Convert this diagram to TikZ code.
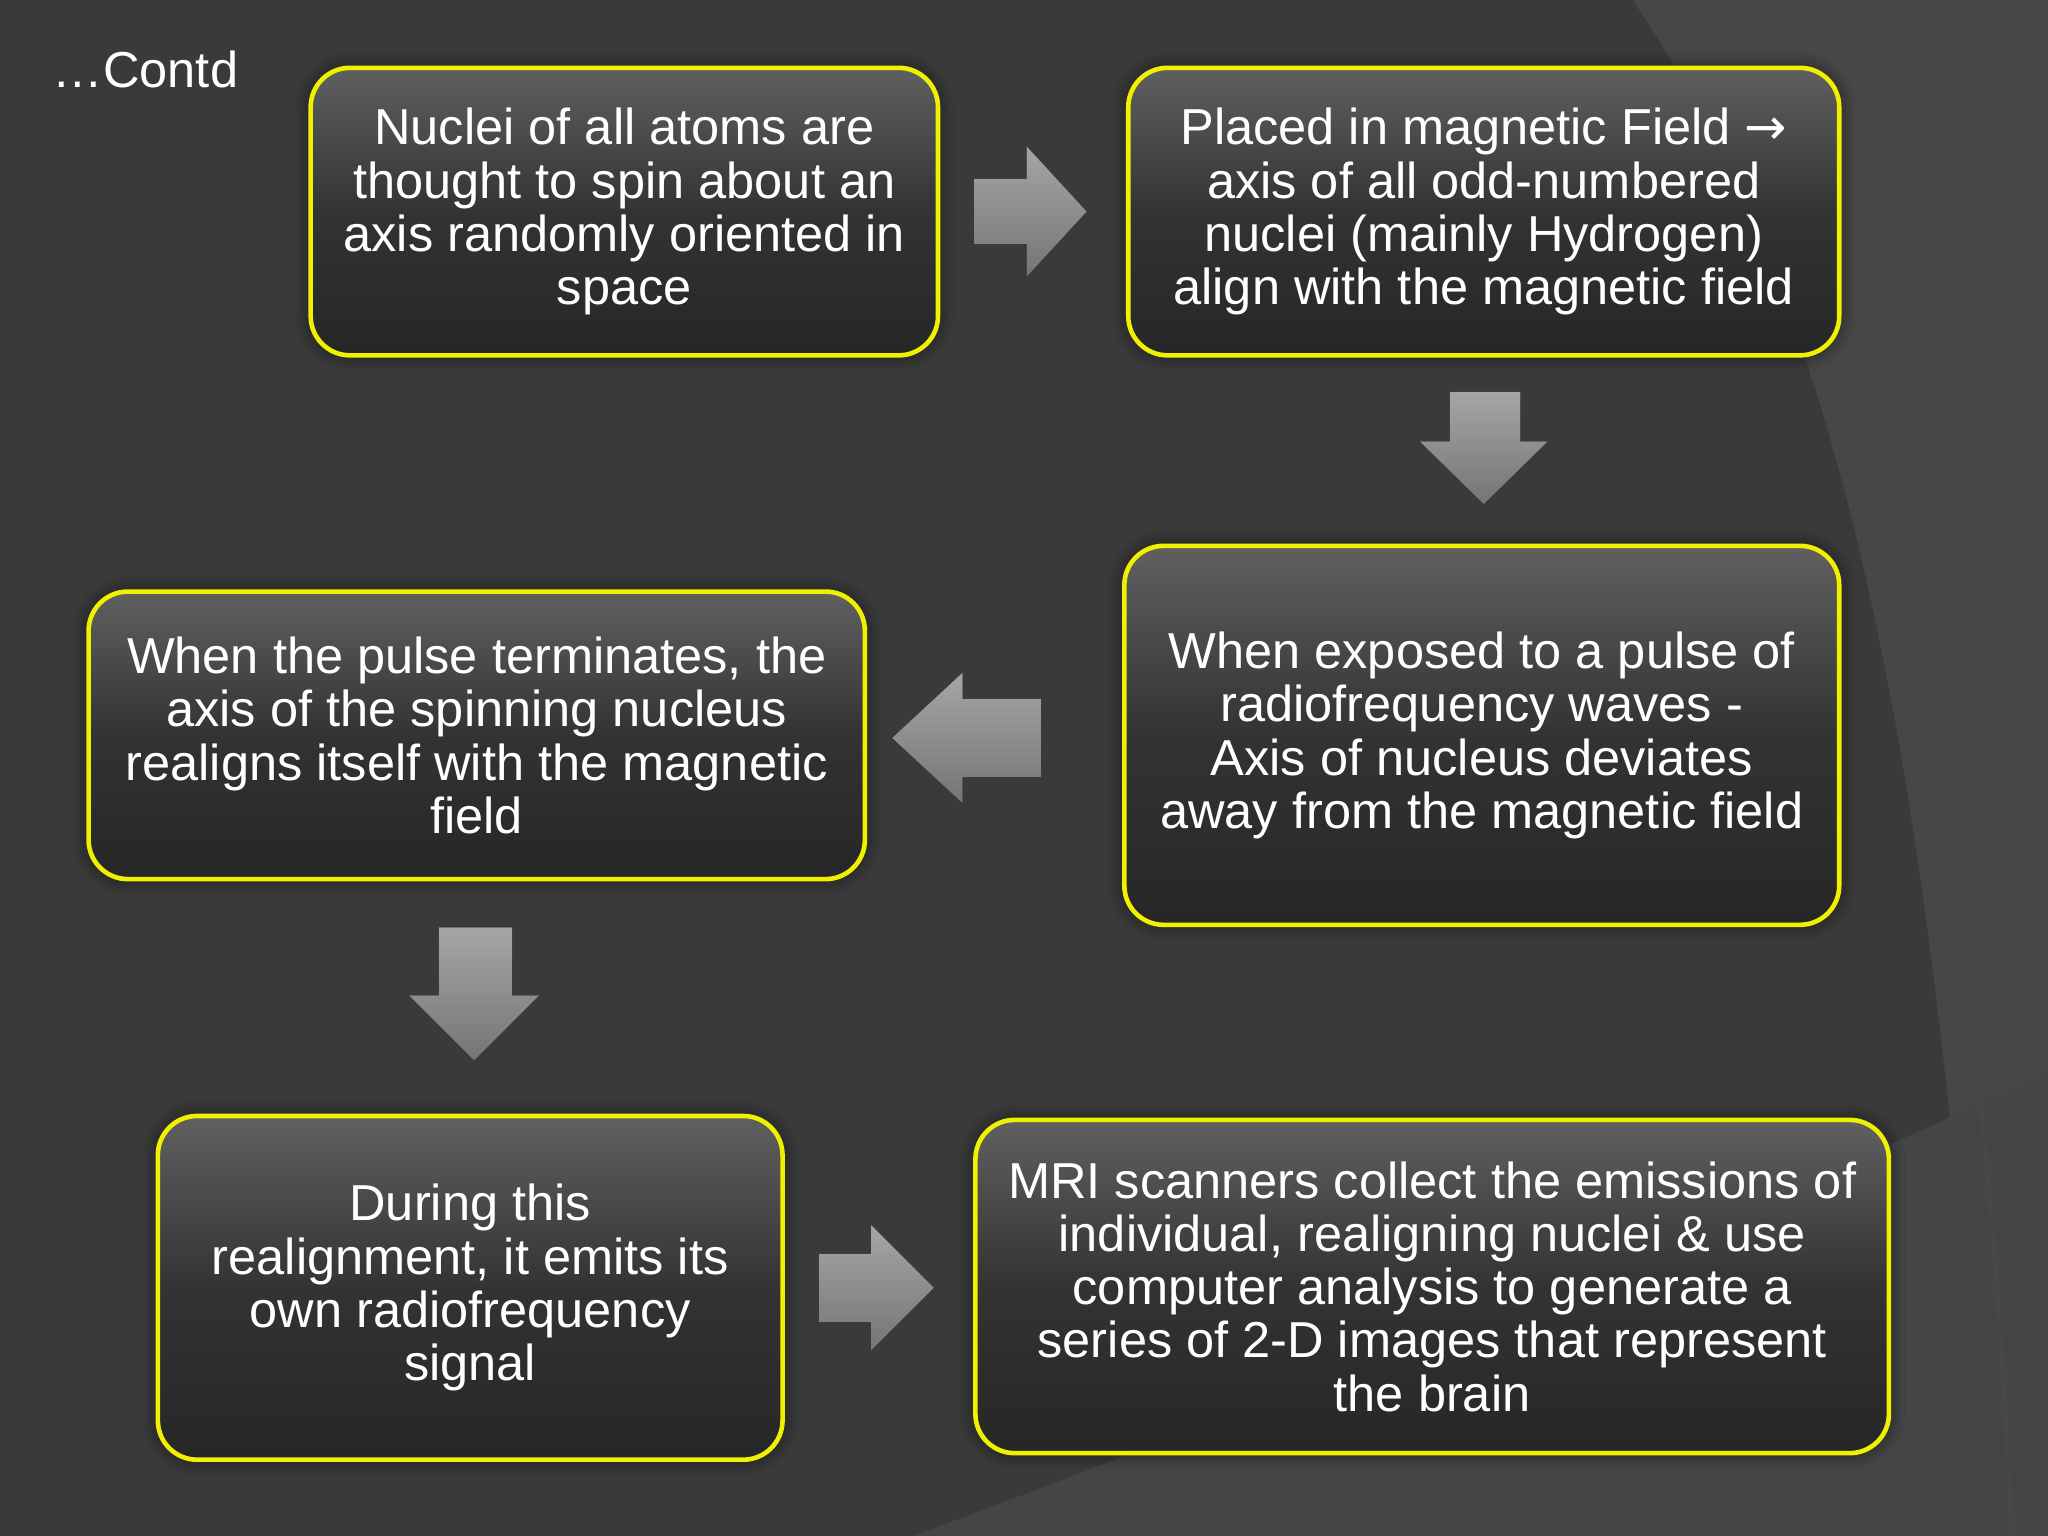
\documentclass[tikz,border=0pt]{standalone}
\usepackage{fontspec}
\setmainfont{Liberation Sans}
\newfontfamily\symf{DejaVu Sans}
\usetikzlibrary{shadows.blur}
\definecolor{bg}{HTML}{3A3A3A}
\definecolor{bgl}{HTML}{474747}
\definecolor{ylw}{HTML}{F0F000}
\tikzset{x=0.01cm,y=-0.01cm,
 box/.style={draw=ylw,line width=1pt,rounded corners=0.3cm,top color=gray!75!black,bottom color=black!85,middle color=black!80,
   text=white,align=center,font=\fontsize{11}{11.6}\selectfont,inner sep=0pt,
   blur shadow={shadow blur steps=6,shadow xshift=0pt,shadow yshift=0pt,shadow opacity=60,shadow blur radius=0.12cm}},
 barrow/.style={top color=gray!70,bottom color=gray!45!black!70,draw=none}}
\begin{document}
\begin{tikzpicture}
\fill[bg] (0,0) rectangle (1568,1176);
\useasboundingbox (0,0) rectangle (1568,1176);
\fill[bgl] (1250,0) .. controls (1420,250) and (1480,600) .. (1520,1176) -- (1568,1176) -- (1568,0) -- cycle;
\fill[bgl!85!bg] (1568,820) .. controls (1300,950) and (900,1100) .. (700,1176) -- (1568,1176) -- cycle;
\draw[bgl,line width=1pt] (1300,0) .. controls (1450,300) and (1520,700) .. (1540,1176);
\node[text=white,font=\fontsize{11}{13}\selectfont,anchor=west] (t) at (28,53) {…Contd};
\node[box,minimum width=4.8cm,minimum height=2.2cm] (b1) at (478,162) {Nuclei of all atoms are\\thought to spin about an\\axis randomly oriented in\\space};
\node[box,minimum width=5.44cm,minimum height=2.2cm] (b2) at (1136,162) {Placed in magnetic Field {\symf →}\\axis of all odd-numbered\\nuclei (mainly Hydrogen)\\align with the magnetic field};
\node[box,minimum width=5.47cm,minimum height=2.9cm] (b3) at (1134.5,563) {When exposed to a pulse of\\radiofrequency waves -\\Axis of nucleus deviates\\away from the magnetic field};
\node[box,minimum width=5.94cm,minimum height=2.2cm] (b4) at (365,563) {When the pulse terminates, the\\axis of the spinning nucleus\\realigns itself with the magnetic\\field};
\node[box,minimum width=4.78cm,minimum height=2.63cm] (b5) at (360,986) {During this\\realignment, it emits its\\own radiofrequency\\signal};
\node[box,minimum width=6.99cm,minimum height=2.55cm] (b6) at (1096.5,985) {MRI scanners collect the emissions of\\individual, realigning nuclei \& use\\computer analysis to generate a\\series of 2-D images that represent\\the brain};
\fill[barrow] (746,137) -- (786,137) -- (786,112) -- (832,162) -- (786,212) -- (786,187) -- (746,187) -- cycle;
\fill[barrow] (1110,300) -- (1164,300) -- (1164,338) -- (1185,338) -- (1136,386) -- (1087,338) -- (1110,338) -- cycle;
\fill[barrow] (797,535) -- (737,535) -- (737,515) -- (683,565) -- (737,615) -- (737,595) -- (797,595) -- cycle;
\fill[barrow] (336,710) -- (392,710) -- (392,762) -- (413,762) -- (363,812) -- (313,762) -- (336,762) -- cycle;
\fill[barrow] (627,960) -- (667,960) -- (667,938) -- (715,986) -- (667,1034) -- (667,1012) -- (627,1012) -- cycle;
\end{tikzpicture}
\end{document}
